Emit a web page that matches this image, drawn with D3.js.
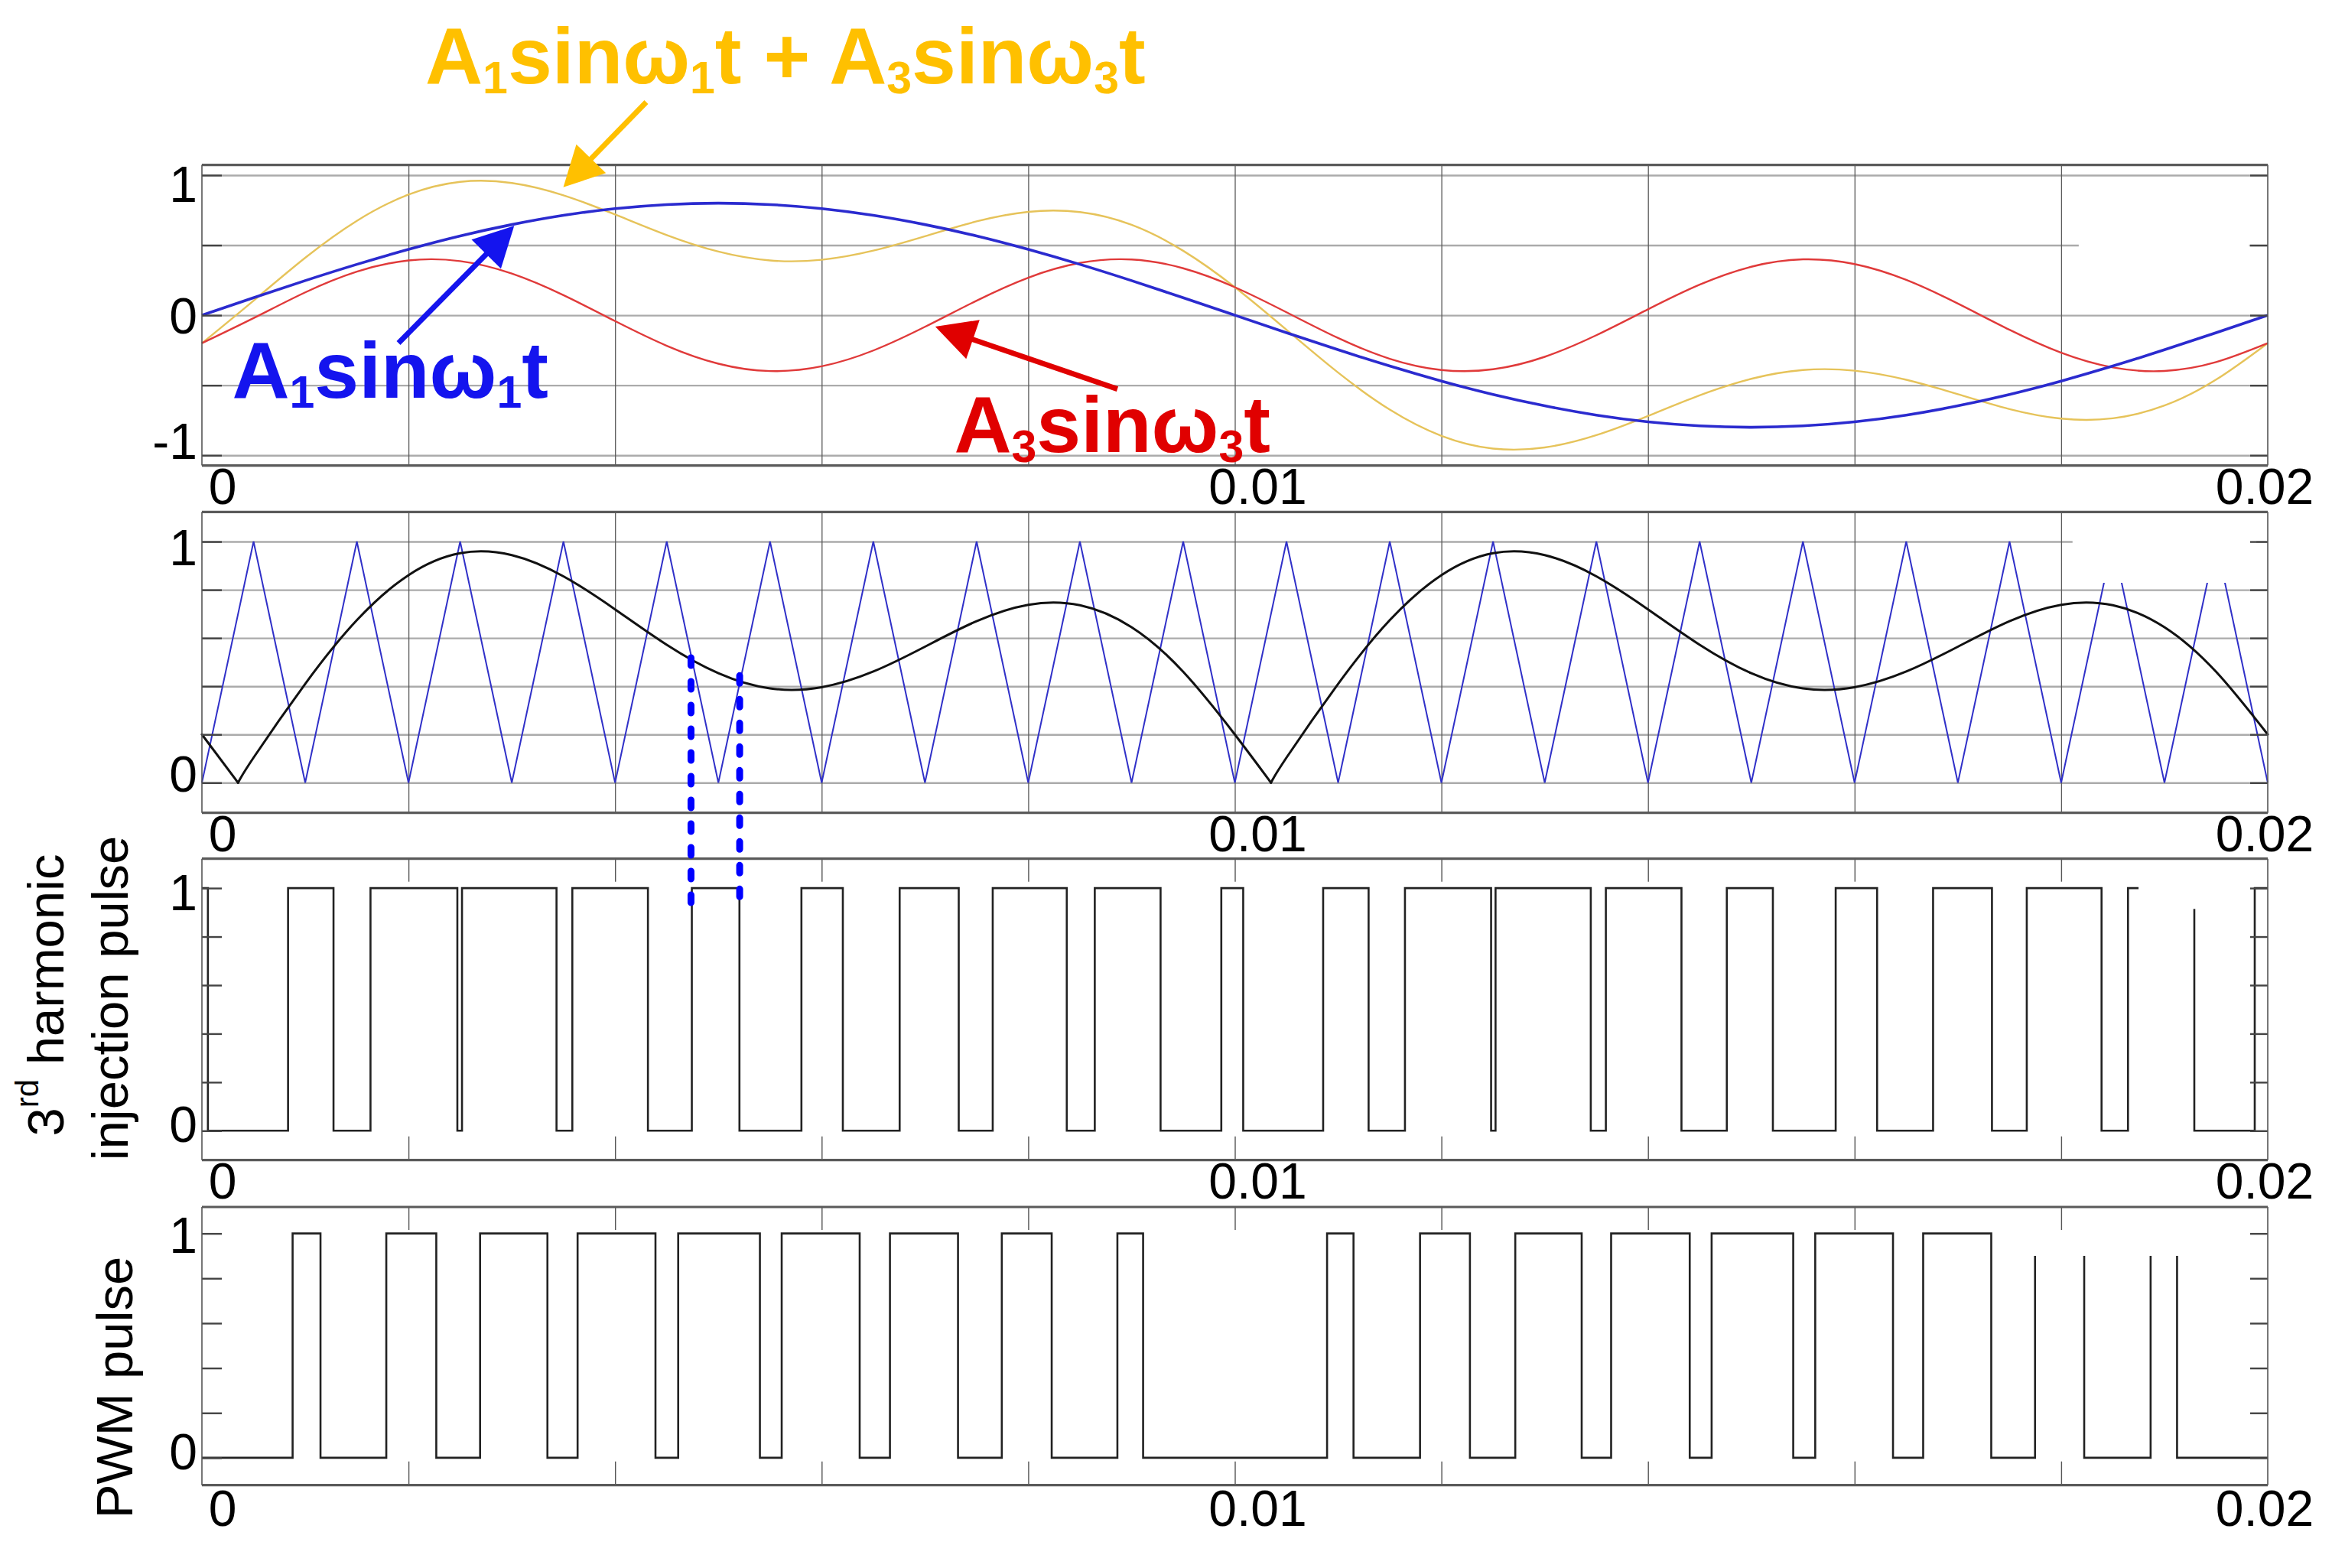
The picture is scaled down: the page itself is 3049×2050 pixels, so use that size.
<!DOCTYPE html>
<html><head><meta charset="utf-8">
<script src="https://cdn.jsdelivr.net/npm/d3@7"></script>
<style>
body{margin:0;background:#fff}
svg{display:block}
text{font-family:"Liberation Sans",Arial,Helvetica,sans-serif}
</style>
</head><body>
<svg id="c" width="3049" height="2050"></svg>
<script>
// ---------------- DATA ----------------
const time = [0,0.0005,0.001,0.0015,0.002,0.0025,0.003,0.0035,0.004,0.0045,0.005,0.0055,0.006,0.0065,0.007,0.0075,0.008,0.0085,0.009,0.0095,0.01,0.0105,0.011,0.0115,0.012,0.0125,0.013,0.0135,0.014,0.0145,0.015,0.0155,0.016,0.0165,0.017,0.0175,0.018,0.0185,0.019,0.0195,0.02];
const fundamental = [0,0.125,0.247,0.363,0.470,0.566,0.647,0.713,0.761,0.790,0.800,0.790,0.761,0.713,0.647,0.566,0.470,0.363,0.247,0.125,0,-0.125,-0.247,-0.363,-0.470,-0.566,-0.647,-0.713,-0.761,-0.790,-0.800,-0.790,-0.761,-0.713,-0.647,-0.566,-0.470,-0.363,-0.247,-0.125,0];
const thirdHarmonic = [-0.200,-0.021,0.163,0.311,0.391,0.386,0.297,0.143,-0.042,-0.218,-0.346,-0.399,-0.365,-0.252,-0.083,0.104,0.268,0.373,0.398,0.335,0.200,0.021,-0.163,-0.311,-0.391,-0.386,-0.297,-0.143,0.042,0.218,0.346,0.399,0.365,0.252,0.083,-0.104,-0.268,-0.373,-0.398,-0.335,-0.200];
const combined = [-0.200,0.104,0.410,0.674,0.861,0.952,0.944,0.856,0.719,0.572,0.454,0.391,0.396,0.461,0.564,0.670,0.738,0.736,0.645,0.460,0.200,-0.104,-0.410,-0.674,-0.861,-0.952,-0.944,-0.856,-0.719,-0.572,-0.454,-0.391,-0.396,-0.461,-0.564,-0.670,-0.738,-0.736,-0.645,-0.460,-0.200];
const carrier = [0,1,0,1,0,1,0,1,0,1,0,1,0,1,0,1,0,1,0,1,0,1,0,1,0,1,0,1,0,1,0,1,0,1,0,1,0,1,0,1,0];
const modTime = [0,0.00035,0.0005,0.001,0.0015,0.002,0.0025,0.003,0.0035,0.004,0.0045,0.005,0.0055,0.006,0.0065,0.007,0.0075,0.008,0.0085,0.009,0.0095,0.01,0.01035,0.0105,0.011,0.0115,0.012,0.0125,0.013,0.0135,0.014,0.0145,0.015,0.0155,0.016,0.0165,0.017,0.0175,0.018,0.0185,0.019,0.0195,0.02];
const modulating = [0.200,0,0.104,0.410,0.674,0.861,0.952,0.944,0.856,0.719,0.572,0.454,0.391,0.396,0.461,0.564,0.670,0.738,0.736,0.645,0.460,0.200,0,0.104,0.410,0.674,0.861,0.952,0.944,0.856,0.719,0.572,0.454,0.391,0.396,0.461,0.564,0.670,0.738,0.736,0.645,0.460,0.200];
const harmonicPulseOn = [[0,0.000058],[0.000834,0.001274],[0.001632,0.002473],[0.002518,0.003433],[0.003586,0.004318],[0.004743,0.005204],[0.005804,0.006205],[0.006755,0.007327],[0.007656,0.008373],[0.008644,0.009281],[0.009869,0.010081],[0.010855,0.011295],[0.011647,0.012481],[0.012524,0.013446],[0.013592,0.014324],[0.014763,0.015209],[0.015817,0.016218],[0.016760,0.017330],[0.017667,0.018391],[0.018647,0.019289],[0.019874,0.02]];
const pwmPulseOn = [[0.000878,0.001148],[0.001785,0.002269],[0.002693,0.003345],[0.003637,0.004391],[0.004611,0.005402],[0.005613,0.006368],[0.006661,0.007320],[0.007744,0.008227],[0.008863,0.009112],[0.010893,0.011149],[0.011793,0.012276],[0.012715,0.013358],[0.013643,0.014404],[0.014616,0.015406],[0.015619,0.016372],[0.016664,0.017323],[0.017747,0.018223],[0.018866,0.019122]];
const markerTimes = [0.004735,0.005206];
const markerTopValues = [0.518,0.444];
const markerBottomValues = [0.94,0.962];
const xGridTicks = [0.002,0.004,0.006,0.008,0.01,0.012,0.014,0.016,0.018];
const xTickValues = [0,0.01,0.02];
const xTickLabels = ["0","0.01","0.02"];
const p1Grid = [-1,-0.5,0,0.5,1];
const pulseGrid = [0,0.2,0.4,0.6,0.8,1];
const p1TickValues = [1,0,-1], p1TickLabels = ["1","0","-1"];
const pulseTickValues = [1,0], pulseTickLabels = ["1","0"];

// ---------------- LAYOUT / STYLE ----------------
const X0 = 264, X1 = 2965;
const layout = [
  {top:215.6, bottom:608.6, domain:[-1.073,1.073]},
  {top:669.3, bottom:1062.7, domain:[-0.125,1.123]},
  {top:1122.7, bottom:1516.7, domain:[-0.121,1.121]},
  {top:1578, bottom:1941.7, domain:[-0.122,1.118]}
];
const x = d3.scaleLinear().domain([0,0.02]).range([X0,X1]);
const ys = layout.map(p => d3.scaleLinear().domain(p.domain).range([p.bottom,p.top]));
const svg = d3.select('#c');
svg.append('rect').attr('width',3049).attr('height',2050).attr('fill','#fff');

const hGrids = [p1Grid, pulseGrid, null, null];
const tickVals = [p1Grid, pulseGrid, pulseGrid, pulseGrid];
const labelVals = [p1TickValues, pulseTickValues, pulseTickValues, pulseTickValues];
const labelTexts = [p1TickLabels, pulseTickLabels, pulseTickLabels, pulseTickLabels];
const labelDy = [[11,0,-19],[7,-12],[5,-9],[1,-9]];
const xLabelDx = [27,30,-4];
const xLabelBase = [50,50,50,53];

// grids
layout.forEach((p,i) => {
  const y = ys[i];
  const g = svg.append('g');
  if (hGrids[i]) {
    g.append('g').attr('transform',`translate(${X0},0)`)
      .call(d3.axisLeft(y).tickValues(hGrids[i]).tickSize(-(X1-X0)).tickFormat(''))
      .call(s => { s.select('.domain').remove(); s.selectAll('line').attr('stroke','#ababab').attr('stroke-width',2.4); });
    g.append('g').attr('transform',`translate(0,${p.bottom})`)
      .call(d3.axisBottom(x).tickValues(xGridTicks).tickSize(-(p.bottom-p.top)).tickFormat(''))
      .call(s => { s.select('.domain').remove(); s.selectAll('line').attr('stroke','#5a5a5a').attr('stroke-width',1.3); });
  }
});

// data
const smooth = (xs, vs, y, curve) => d3.line().x((d,j)=>x(xs[j])).y(d=>y(d)).curve(curve)(vs);
const y1 = ys[0];
svg.append('path').attr('d', smooth(time, combined, y1, d3.curveNatural)).attr('fill','none').attr('stroke','#e6c35a').attr('stroke-width',2.4);
svg.append('path').attr('d', smooth(time, thirdHarmonic, y1, d3.curveNatural)).attr('fill','none').attr('stroke','#e03a3a').attr('stroke-width',2.4);
svg.append('path').attr('d', smooth(time, fundamental, y1, d3.curveNatural)).attr('fill','none').attr('stroke','#2b2bcf').attr('stroke-width',3.6);

const y2 = ys[1];
svg.append('path').attr('d', smooth(time, carrier, y2, d3.curveLinear)).attr('fill','none').attr('stroke','#3030c8').attr('stroke-width',2);
// modulating |signal|: split at its zero cusps, smooth in between
const cuts = [0];
modulating.forEach((v,j) => { if (v === 0) cuts.push(j); });
cuts.push(modulating.length-1);
for (let c = 0; c < cuts.length-1; c++) {
  const a = cuts[c], b = cuts[c+1];
  const pts = modTime.slice(a,b+1).map((t,j)=>[t, modulating[a+j]]);
  svg.append('path').attr('d', d3.line().x(d=>x(d[0])).y(d=>y2(d[1])).curve(pts.length>2?d3.curveNatural:d3.curveLinear)(pts))
    .attr('fill','none').attr('stroke','#111').attr('stroke-width',3).attr('stroke-linecap','round');
}

function pulsePoints(on){
  const pts = [];
  if (on[0][0] > 0) pts.push([0,0]);
  on.forEach(([a,b]) => { pts.push([a,0],[a,1],[b,1],[b,0]); });
  if (on[0][0] === 0) pts.splice(0,1);
  const last = on[on.length-1];
  if (last[1] < 0.02) pts.push([0.02,0]); else pts.pop();
  return pts;
}
[[harmonicPulseOn,2],[pwmPulseOn,3]].forEach(([on,i]) => {
  const y = ys[i];
  svg.append('path').attr('d', d3.line().x(d=>x(d[0])).y(d=>y(d[1]))(pulsePoints(on)))
    .attr('fill','none').attr('stroke','#222').attr('stroke-width',2.6).attr('stroke-linejoin','miter');
});

// white patches present in the original picture
const masks = [
  {p:0, t:[0.01817,0.01982], v:[0.42,0.96]},
  {p:1, t:[0.01811,0.01989], v:[0.829,1.10]},
  {p:2, t:[0.018749,0.019845], v:[0.914,1.10]},
  {p:3, t:[0.017638,0.019867], v:[0.90,1.04]}
];
masks.forEach(m => {
  const y = ys[m.p];
  svg.append('rect').attr('x',x(m.t[0])).attr('width',x(m.t[1])-x(m.t[0]))
    .attr('y',y(m.v[1])).attr('height',y(m.v[0])-y(m.v[1])).attr('fill','#fff');
});

// ticks, frames, labels
layout.forEach((p,i) => {
  const y = ys[i];
  const g = svg.append('g');
  g.append('g').attr('transform',`translate(${X0},0)`)
    .call(d3.axisLeft(y).tickValues(tickVals[i]).tickSize(-26).tickFormat(''))
    .call(s => { s.select('.domain').remove(); s.selectAll('line').attr('stroke','#444').attr('stroke-width',2.4); });
  g.append('g').attr('transform',`translate(${X1},0)`)
    .call(d3.axisRight(y).tickValues(tickVals[i]).tickSize(-23).tickFormat(''))
    .call(s => { s.select('.domain').remove(); s.selectAll('line').attr('stroke','#444').attr('stroke-width',2.4); });
  if (!hGrids[i]) {
    g.append('g').attr('transform',`translate(0,${p.top})`)
      .call(d3.axisTop(x).tickValues(xGridTicks).tickSize(-30).tickFormat(''))
      .call(s => { s.select('.domain').remove(); s.selectAll('line').attr('stroke','#555').attr('stroke-width',1.4); });
    g.append('g').attr('transform',`translate(0,${p.bottom})`)
      .call(d3.axisBottom(x).tickValues(xGridTicks).tickSize(-31).tickFormat(''))
      .call(s => { s.select('.domain').remove(); s.selectAll('line').attr('stroke','#555').attr('stroke-width',1.4); });
  }
  // frame
  g.append('line').attr('x1',X0).attr('x2',X0).attr('y1',p.top).attr('y2',p.bottom).attr('stroke','#555').attr('stroke-width',1.6);
  g.append('line').attr('x1',X1).attr('x2',X1).attr('y1',p.top).attr('y2',p.bottom).attr('stroke','#555').attr('stroke-width',1.6);
  g.append('line').attr('x1',X0).attr('x2',X1).attr('y1',p.top).attr('y2',p.top).attr('stroke','#5a5a5a').attr('stroke-width',3.2);
  g.append('line').attr('x1',X0).attr('x2',X1).attr('y1',p.bottom).attr('y2',p.bottom).attr('stroke','#5a5a5a').attr('stroke-width',3.2);
  // y tick labels
  labelVals[i].forEach((v,j) => {
    g.append('text').attr('x',258).attr('y',y(v)+labelDy[i][j]+24)
      .attr('text-anchor','end').attr('font-size',66).attr('fill','#000').text(labelTexts[i][j]);
  });
  // x tick labels
  xTickValues.forEach((t,j) => {
    g.append('text').attr('x',x(t)+xLabelDx[j]).attr('y',p.bottom+xLabelBase[i])
      .attr('text-anchor','middle').attr('font-size',66).attr('fill','#000').text(xTickLabels[j]);
  });
});

// dashed marker lines
markerTimes.forEach((t,j) => {
  svg.append('line').attr('x1',x(t)).attr('x2',x(t))
    .attr('y1',ys[1](markerTopValues[j])).attr('y2',ys[2](markerBottomValues[j]))
    .attr('stroke','#0000ff').attr('stroke-width',9).attr('stroke-linecap','round')
    .attr('stroke-dasharray','10,21');
});

// y axis titles
function vtitle(cx, cy, parts){
  const t = svg.append('text').attr('transform',`translate(${cx},${cy}) rotate(-90)`)
    .attr('text-anchor','middle').attr('font-size',67).attr('fill','#000');
  parts.forEach(pt => { const s = t.append('tspan').text(pt.s); if (pt.fs) s.attr('font-size',pt.fs); if (pt.dy) s.attr('dy',pt.dy); });
}
vtitle(83, 1301, [{s:'3'},{s:'rd',fs:42,dy:-33},{s:' harmonic',dy:33}]);
vtitle(167, 1305, [{s:'injection pulse'}]);
vtitle(173, 1814, [{s:'PWM pulse'}]);

// annotations (positions in panel-1 data units)
function label(t, v, color, parts){
  const txt = svg.append('text').attr('x',x(t)).attr('y',y1(v)).attr('font-size',104).attr('font-weight','bold').attr('fill',color);
  parts.forEach(pt => {
    const s = txt.append('tspan').text(pt.s);
    if (pt.sub) s.attr('font-size',59).attr('dy',13);
    if (pt.back) s.attr('dy',-13);
  });
}
function term(a, b){ return [{s:'A'},{s:a,sub:true},{s:'sin\u03c9',back:true},{s:b,sub:true},{s:'t',back:true}]; }
label(0.002162, 1.654, '#ffc000', term('1','1').concat([{s:' + A'}], term('3','3').slice(1)));
label(0.000292, -0.589, '#1414ee', term('1','1'));
label(0.007282, -0.977, '#e00000', term('3','3'));

function arrow(t0,v0,t1,v1,color){
  const ax0=x(t0), ay0=y1(v0), ax1=x(t1), ay1=y1(v1);
  const dx=ax1-ax0, dy=ay1-ay0, L=Math.hypot(dx,dy), ux=dx/L, uy=dy/L;
  const hl=52, hw=27;
  const bx=ax1-ux*hl, by=ay1-uy*hl;
  svg.append('line').attr('x1',ax0).attr('y1',ay0).attr('x2',bx+ux*4).attr('y2',by+uy*4).attr('stroke',color).attr('stroke-width',7);
  svg.append('polygon').attr('points',[[ax1,ay1],[bx-uy*hw,by+ux*hw],[bx+uy*hw,by-ux*hw]].map(p=>p.join(',')).join(' ')).attr('fill',color);
}
arrow(0.004302,1.521,0.003499,0.914,'#ffc000');
arrow(0.001903,-0.199,0.003023,0.638,'#1414ee');
arrow(0.008863,-0.527,0.0071,-0.081,'#e00000');
</script>
</body></html>
